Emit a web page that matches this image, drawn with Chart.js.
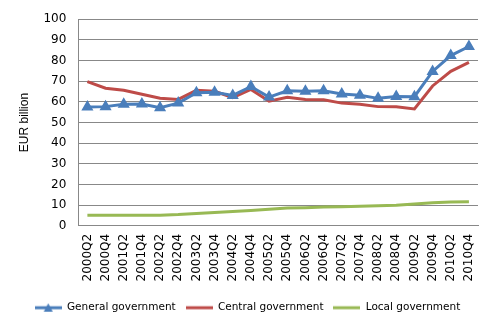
<!DOCTYPE html>
<html lang="en">
<head>
<meta charset="UTF-8">
<title>Government debt</title>
<script src="https://cdn.jsdelivr.net/npm/chart.js"></script>
<style>
  html, body { margin: 0; padding: 0; background: #fff; }
  #wrap { width: 495px; height: 328px; }
</style>
</head>
<body>
<div id="wrap"><canvas id="myChart"></canvas></div>
<script>
const periods = ['2000Q2','2000Q4','2001Q2','2001Q4','2002Q2','2002Q4','2003Q2','2003Q4','2004Q2','2004Q4','2005Q2',
  '2005Q4','2006Q2','2006Q4','2007Q2','2007Q4','2008Q2','2008Q4','2009Q2','2009Q4','2010Q2','2010Q4'];
const general = [57.5, 57.7, 58.9, 59.0, 57.2, 59.4, 64.4, 64.6, 63.1, 67.4, 62.3,
  65.4, 65.1, 65.4, 63.8, 63.2, 61.7, 62.6, 62.5, 74.7, 82.4, 86.8];
const central = [69.8, 66.6, 65.6, 63.7, 61.8, 61.2, 65.6, 65.1, 62.1, 66.0, 60.3,
  62.2, 61.1, 61.0, 59.4, 58.8, 57.7, 57.6, 56.6, 67.7, 74.8, 79.1];
const local = [5.2, 5.2, 5.2, 5.2, 5.2, 5.5, 6.0, 6.5, 7.0, 7.5, 8.0,
  8.6, 8.8, 9.1, 9.3, 9.5, 9.7, 10.0, 10.6, 11.2, 11.6, 11.7];
const yTicks = [0, 10, 20, 30, 40, 50, 60, 70, 80, 90, 100];

// legend swatches: short line, with a triangle for the first series
function swatch(color, marker) {
  const c = document.createElement('canvas');
  c.width = 27; c.height = 10;
  const g = c.getContext('2d');
  g.strokeStyle = color; g.lineWidth = 3;
  g.beginPath(); g.moveTo(0, 5); g.lineTo(27, 5); g.stroke();
  if (marker) {
    g.fillStyle = color;
    g.beginPath(); g.moveTo(13.5, 0.5); g.lineTo(18, 9); g.lineTo(9, 9); g.closePath(); g.fill();
  }
  return c;
}

const blue = '#4a7ebb', red = '#be4b48', green = '#98b954';
const font = "'DejaVu Sans', Verdana, sans-serif";

new Chart(document.getElementById('myChart'), {
  type: 'line',
  data: {
    labels: periods,
    datasets: [
      { label: 'General government', data: general, borderColor: blue, backgroundColor: blue,
        borderWidth: 3, pointStyle: 'triangle', pointRadius: 4, tension: 0, legendSwatch: swatch(blue, true) },
      { label: 'Central government', data: central, borderColor: red, backgroundColor: red,
        borderWidth: 3, pointRadius: 0, tension: 0, legendSwatch: swatch(red, false) },
      { label: 'Local government', data: local, borderColor: green, backgroundColor: green,
        borderWidth: 3, pointRadius: 0, tension: 0, legendSwatch: swatch(green, false) }
    ]
  },
  options: {
    responsive: true,
    maintainAspectRatio: false,
    animation: false,
    layout: { padding: { left: 17, right: 17, top: 2, bottom: 5 } },
    plugins: {
      tooltip: { enabled: false },
      legend: {
        position: 'bottom',
        labels: {
          usePointStyle: true,
          pointStyleWidth: 27,
          color: '#000',
          font: { family: font, size: 10.5 },
          padding: 10,
          generateLabels(chart) {
            return chart.data.datasets.map((ds, i) => ({
              text: ds.label, pointStyle: ds.legendSwatch, datasetIndex: i,
              fontColor: '#000', hidden: false, lineWidth: 0, strokeStyle: ds.borderColor
            }));
          }
        }
      }
    },
    scales: {
      x: {
        offset: true,
        afterFit(axis) { axis.height += 3; },
        grid: { display: false, drawTicks: false },
        border: { color: '#888' },
        ticks: { color: '#000', font: { family: font, size: 12 }, maxRotation: 90, minRotation: 90, autoSkip: false, padding: 8 }
      },
      y: {
        min: 0, max: 100,
        afterBuildTicks(axis) { axis.ticks = yTicks.map(v => ({ value: v })); },
        grid: { color: '#888', drawTicks: false },
        border: { color: '#888' },
        ticks: { color: '#000', font: { family: font, size: 12 }, padding: 12 },
        title: { display: true, text: 'EUR billion', color: '#000', padding: { top: 0, bottom: 0 },
          font: { family: "'Liberation Sans', Arial, sans-serif", size: 12 } }
      }
    }
  }
});
</script>
</body>
</html>
